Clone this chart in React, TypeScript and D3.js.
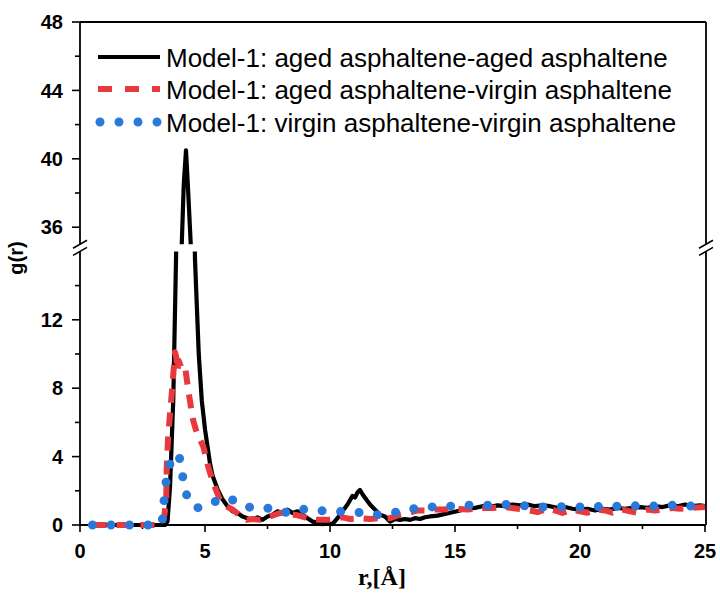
import React from 'react';
import * as d3 from 'd3';

// g(r) data: [r (Å), g(r)]
const agedAged: [number, number][] = [
  [0.5,0],[1,0],[1.5,0],[2,0],[2.5,0],[3,0],[3.4,0],[3.5,0.2],[3.6,2.2],[3.73,7.3],[3.84,15.5],[3.95,24],
  [4.07,35],[4.15,38.5],[4.24,40.5],[4.33,38],[4.43,35],[4.5,25],[4.6,15.5],[4.75,10],[4.87,7.3],[5.0,5.6],
  [5.1,4.6],[5.2,3.6],[5.3,2.9],[5.5,2.1],[5.7,1.5],[5.9,1.1],[6.1,0.8],[6.3,0.7],[6.5,0.5],[6.7,0.4],
  [6.9,0.3],[7.1,0.45],[7.3,0.3],[7.5,0.5],[7.7,0.6],[7.9,0.8],[8.1,0.7],[8.3,0.9],[8.5,0.7],[8.7,0.8],
  [8.9,0.6],[9.1,0.4],[9.3,0.2],[9.5,0.15],[9.7,0.05],[9.9,0.1],[10.1,0.05],[10.3,0.4],[10.5,0.8],[10.7,1.2],
  [10.9,1.7],[11.0,1.6],[11.1,1.9],[11.2,2.05],[11.3,1.8],[11.4,1.6],[11.6,1.2],[11.8,0.9],[12.0,0.6],
  [12.2,0.5],[12.4,0.2],[12.6,0.35],[12.8,0.3],[13.0,0.35],[13.2,0.3],[13.4,0.4],[13.6,0.35],[13.8,0.45],
  [14.0,0.5],[14.3,0.55],[14.6,0.65],[14.9,0.75],[15.2,0.85],[15.5,0.95],[15.8,1.0],[16.1,1.1],[16.4,1.05],
  [16.7,1.15],[17.0,1.1],[17.3,1.2],[17.6,1.15],[17.9,1.2],[18.2,1.1],[18.5,1.15],[18.8,1.1],[19.1,1.0],
  [19.4,1.05],[19.7,0.95],[20.0,0.9],[20.3,0.95],[20.6,0.85],[20.9,0.95],[21.2,0.9],[21.5,1.0],[21.8,0.95],
  [22.1,1.0],[22.4,1.05],[22.7,1.0],[23.0,1.1],[23.3,1.05],[23.6,1.15],[23.9,1.1],[24.2,1.2],[24.5,1.1],
  [24.8,1.15],[25,1.1]
];

const agedVirgin: [number, number][] = [
  [0.5,0],[1,0],[1.5,0],[2,0],[2.5,0],[3,0],[3.3,0.05],[3.38,0.6],[3.45,1.5],[3.47,3.4],[3.52,5],[3.6,6.5],
  [3.7,8.2],[3.8,10.1],[3.85,9.8],[3.9,9.0],[3.95,9.6],[4.05,9.2],[4.2,9.3],[4.33,7.9],[4.45,6.8],[4.53,6.1],
  [4.67,5.4],[4.8,5.0],[4.93,4.6],[5.13,3.4],[5.33,2.45],[5.6,1.46],[5.85,1.1],[6.13,0.88],[6.4,0.55],
  [6.67,0.3],[6.9,0.35],[7.2,0.3],[7.5,0.45],[7.8,0.6],[8.0,0.7],[8.25,0.75],[8.5,0.6],[8.67,0.58],[9.0,0.45],
  [9.3,0.3],[9.6,0.3],[9.87,0.3],[10.2,0.35],[10.5,0.45],[10.8,0.35],[11.2,0.4],[11.6,0.35],[12.0,0.4],
  [12.4,0.4],[12.8,0.6],[13.2,0.72],[13.5,0.85],[13.9,0.84],[14.2,0.9],[14.5,0.9],[15,0.95],[15.5,0.9],
  [16,1.0],[16.5,1.0],[17,1.05],[17.5,0.95],[18,0.85],[18.3,0.75],[18.7,0.95],[19,0.85],[19.3,0.7],[19.7,0.9],
  [20,0.8],[20.3,0.72],[20.7,0.9],[21,0.85],[21.3,0.72],[21.7,0.9],[22,0.8],[22.3,0.72],[22.7,0.9],[23,0.85],
  [23.3,0.9],[23.7,1.0],[24,0.95],[24.5,1.0],[25,1.05]
];

const virginVirgin: [number, number][] = [
  [0.5,0],[1,0],[1.5,0],[2,0],[2.5,0],[3,0],[3.25,0.05],[3.32,0.5],[3.37,1.6],[3.45,2.6],[3.55,3.4],
  [3.67,3.8],[3.8,4.0],[3.95,4.15],[4.02,3.6],[4.1,2.9],[4.24,1.85],[4.4,1.3],[4.64,1.0],[4.9,1.05],
  [5.13,1.17],[5.45,1.4],[5.8,1.6],[6.05,1.5],[6.27,1.36],[6.6,1.1],[6.93,1.0],[7.3,0.95],[7.63,1.0],
  [8.0,0.85],[8.33,0.7],[8.7,0.85],[9.0,0.93],[9.4,0.88],[9.73,0.82],[10.1,0.8],[10.47,0.78],[10.9,0.75],
  [11.27,0.72],[11.6,0.65],[12.0,0.58],[12.35,0.65],[12.7,0.78],[13.1,0.9],[13.44,0.97],[14.0,1.05],
  [14.5,1.1],[15,1.1],[15.5,1.15],[16,1.17],[16.5,1.15],[17,1.2],[17.5,1.15],[18,1.1],[18.5,1.05],[19,1.1],
  [19.5,1.05],[20,1.05],[20.5,1.1],[21,1.05],[21.5,1.1],[22,1.1],[22.5,1.15],[23,1.1],[23.5,1.15],[24,1.15],
  [24.5,1.1],[25,1.1]
];

const xTicks = [0, 5, 10, 15, 20, 25];
const xMinorTicks = [2.5, 7.5, 12.5, 17.5, 22.5];
const yTicksLower = [0, 4, 8, 12];
const yMinorLower = [2, 6, 10, 14];
const yTicksUpper = [36, 40, 44, 48];
const yMinorUpper = [38, 42, 46];
const legendLabels = [
  'Model-1: aged asphaltene-aged asphaltene',
  'Model-1: aged asphaltene-virgin asphaltene',
  'Model-1: virgin asphaltene-virgin asphaltene',
];

const BLACK = '#000000';
const RED = '#e8393f';
const BLUE = '#2a78d8';

export default function App() {
  const left = 80, right = 705;
  const x = d3.scaleLinear().domain([0, 25]).range([left, right]);
  const yLow = d3.scaleLinear().domain([0, 16]).range([525, 251.4]);
  const yUp = d3.scaleLinear().domain([35, 48]).range([244.3, 22]);
  const yBottom = yLow(0), yLowTop = yLow(16), yUpBottom = yUp(35), yTop = yUp(48);

  const lineLow = d3.line<[number, number]>().x(d => x(d[0])).y(d => yLow(d[1]));
  const lineUp = d3.line<[number, number]>().x(d => x(d[0])).y(d => yUp(d[1]));

  const series = [
    { data: agedAged, color: BLACK, width: 4.2, dash: undefined as string | undefined, cap: 'butt' },
    { data: agedVirgin, color: RED, width: 6, dash: '14 10', cap: 'butt' },
    { data: virginVirgin, color: BLUE, width: 9, dash: '0 18.5', cap: 'round' },
  ];

  const tickFont = { fontFamily: 'Liberation Sans, Arial, sans-serif', fontWeight: 700, fontSize: 20 } as const;
  const breakY1 = yUpBottom, breakY2 = yLowTop;

  const breakMarks = (ax: number) => (
    <g stroke="#000" strokeWidth={1.6}>
      <line x1={ax - 7} y1={breakY1 + 4} x2={ax + 7} y2={breakY1 - 4} />
      <line x1={ax - 7} y1={breakY2 + 4} x2={ax + 7} y2={breakY2 - 4} />
    </g>
  );

  return (
    <svg width={720} height={593} style={{ position: 'absolute', left: 0, top: 0, background: '#fff' }}>
      <defs>
        <clipPath id="clipLow">
          <rect x={left - 2} y={yLowTop} width={right - left + 10} height={yBottom - yLowTop + 10} />
        </clipPath>
        <clipPath id="clipUp">
          <rect x={left - 2} y={yTop} width={right - left + 10} height={yUpBottom - yTop} />
        </clipPath>
      </defs>

      {/* frame */}
      <g stroke="#000" strokeWidth={1.8} fill="none">
        <line x1={left} y1={yTop} x2={right + 1} y2={yTop} />
        <line x1={left} y1={yBottom} x2={right + 1} y2={yBottom} />
        <line x1={left} y1={yTop} x2={left} y2={yUpBottom} />
        <line x1={left} y1={yLowTop} x2={left} y2={yBottom} />
        <line x1={right + 1} y1={yTop} x2={right + 1} y2={yUpBottom} />
        <line x1={right + 1} y1={yLowTop} x2={right + 1} y2={yBottom} />
      </g>
      {breakMarks(left)}
      {breakMarks(right + 1)}

      {/* ticks */}
      <g stroke="#000" strokeWidth={1.6}>
        {yTicksLower.map(t => <line key={'yl' + t} x1={left - 8} x2={left} y1={yLow(t)} y2={yLow(t)} />)}
        {yMinorLower.map(t => <line key={'yml' + t} x1={left - 5} x2={left} y1={yLow(t)} y2={yLow(t)} />)}
        {yTicksUpper.map(t => <line key={'yu' + t} x1={left - 8} x2={left} y1={yUp(t)} y2={yUp(t)} />)}
        {yMinorUpper.map(t => <line key={'ymu' + t} x1={left - 5} x2={left} y1={yUp(t)} y2={yUp(t)} />)}
        {xTicks.map(t => <line key={'x' + t} x1={x(t)} x2={x(t)} y1={yBottom} y2={yBottom + 7} />)}
        {xMinorTicks.map(t => <line key={'xm' + t} x1={x(t)} x2={x(t)} y1={yBottom} y2={yBottom + 4} />)}
      </g>
      <g {...tickFont} textAnchor="end">
        {yTicksLower.map(t => <text key={'tl' + t} x={63} y={yLow(t)} dy="0.36em">{t}</text>)}
        {yTicksUpper.map(t => <text key={'tu' + t} x={63} y={yUp(t)} dy="0.36em">{t}</text>)}
      </g>
      <g {...tickFont} textAnchor="middle">
        {xTicks.map(t => <text key={'tx' + t} x={x(t)} y={558}>{t}</text>)}
      </g>

      {/* axis titles */}
      <text x={382} y={585} textAnchor="middle" fontFamily="Liberation Serif, Times New Roman, serif" fontWeight={700} fontSize={24}>r,[Å]</text>
      <text transform="translate(23,258) rotate(-90)" textAnchor="middle" fontFamily="Liberation Sans, Arial, sans-serif" fontWeight={700} fontSize={20}>g(r)</text>

      {/* series */}
      {series.map((s, i) => (
        <g key={'s' + i} fill="none" stroke={s.color} strokeWidth={s.width} strokeDasharray={s.dash}
           strokeLinecap={s.cap as any} strokeLinejoin="round">
          <path d={lineLow(s.data) || ''} clipPath="url(#clipLow)" />
          <path d={lineUp(s.data) || ''} clipPath="url(#clipUp)" />
        </g>
      ))}

      {/* legend */}
      {series.map((s, i) => {
        const ly = [57, 89, 122][i];
        return (
          <g key={'lg' + i}>
            <line x1={s.cap === 'round' ? 100 : 98} x2={s.cap === 'round' ? 158 : 160} y1={ly} y2={ly}
                  stroke={s.color} strokeWidth={i === 0 ? 4 : s.width}
                  strokeDasharray={s.dash ? (i === 1 ? '14 13' : '0 19') : undefined}
                  strokeLinecap={s.cap as any} />
            <text x={166} y={ly + 9.5} fontFamily="Liberation Sans, Arial, sans-serif" fontSize={26} fill="#000">
              {legendLabels[i]}
            </text>
          </g>
        );
      })}
    </svg>
  );
}
